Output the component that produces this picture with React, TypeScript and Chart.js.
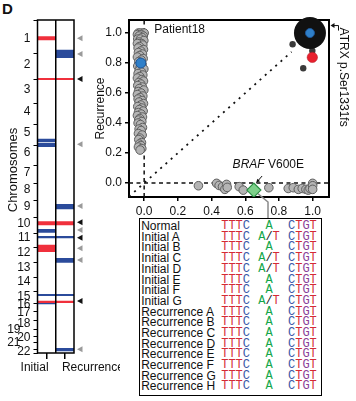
import React, { useEffect, useRef } from 'react';
import { Chart, registerables } from 'chart.js';

Chart.register(...registerables);

const FONT = "'Liberation Sans', Arial, Helvetica, sans-serif";
const MONO = "'Liberation Mono', 'DejaVu Sans Mono', monospace";
Chart.defaults.font.family = FONT;
Chart.defaults.font.size = 12;
Chart.defaults.color = '#111';

// ---------------- Chromosome panel data (relative genome position: 0 = start chr1, 333 = end chr22)
const genomeLength = 333;
const columnLabels = ['Initial', 'Recurrence'];
const chromosomeLabels = ['1', '2', '3', '4', '5', '6', '7', '8', '9', '10', '11', '12', '13', '14', '15', '16', '17', '18', '19   ', '20', '21   ', '22'];
const chromosomeLabelPositions = [18.3, 45, 70, 92, 113, 133, 153, 170, 187, 204, 218, 233, 248, 262, 277, 285, 293, 304, 310, 318, 323, 332];
const chromosomeBoundaries = [0, 33.7, 59.5, 83, 104.5, 125, 145, 163.5, 180.5, 197.5, 213, 227.5, 242.5, 257, 271.5, 283, 291, 300.5, 309, 316, 322.5, 329.5, 333];
const initialGains = [[16.5, 20], [58.4, 59.6], [201.7, 205], [225, 231.7], [281, 282.7]];
const initialLosses = [[119, 122], [123.3, 126.7], [209.3, 212.3], [216.4, 218], [274.4, 275.6], [282.9, 284]];
const recurrenceGains = [[58.4, 59.6], [201.7, 205], [281, 282.7]];
const recurrenceLosses = [[30, 37.7], [184.3, 189], [216.4, 218], [238.3, 242.3], [274.4, 275.6], [328.3, 331]];
const markerPositions = [18.3, 34, 59, 124.3, 186, 202.3, 210, 217.7, 228.3, 240, 281, 329.3];
const markerShared = [false, false, true, false, false, true, false, true, false, false, true, false];

// ---------------- Scatter data (Initial VAF on x, Recurrence VAF on y)
const xRange = [-0.09, 1.097];
const yRange = [-0.093, 1.087];
const axisTicks = [0, 0.2, 0.4, 0.6, 0.8, 1.0];
const recurrenceOnly: number[][] = [
  [-0.035, 1.0], [-0.01, 1.0], [-0.025, 1.0], [0.0, 1.0], [-0.04, 0.99], [-0.018, 0.99], [-0.005, 0.98], [-0.03, 0.98],
  [-0.012, 0.97], [-0.038, 0.96], [-0.022, 0.96], [-0.002, 0.95], [-0.032, 0.94], [-0.015, 0.93], [-0.04, 0.93], [-0.008, 0.92],
  [-0.028, 0.91], [-0.036, 0.9], [-0.004, 0.89], [-0.02, 0.88], [-0.034, 0.87], [-0.01, 0.86], [-0.026, 0.85], [-0.04, 0.84],
  [-0.006, 0.83], [-0.018, 0.82], [-0.032, 0.81], [-0.012, 0.79], [-0.038, 0.78], [-0.024, 0.77], [-0.002, 0.76], [-0.03, 0.75],
  [-0.016, 0.74], [-0.036, 0.73], [-0.008, 0.72], [-0.026, 0.71], [-0.04, 0.7], [-0.014, 0.69], [-0.004, 0.68], [-0.032, 0.67],
  [-0.02, 0.66], [-0.038, 0.65], [-0.01, 0.64], [-0.028, 0.63], [-0.002, 0.62], [-0.034, 0.61], [-0.018, 0.6], [-0.04, 0.59],
  [-0.008, 0.58], [-0.024, 0.57], [-0.036, 0.56], [-0.012, 0.55], [-0.03, 0.54], [-0.004, 0.53], [-0.02, 0.52], [-0.038, 0.51],
  [-0.014, 0.5], [-0.028, 0.49], [-0.006, 0.48], [-0.034, 0.47], [-0.018, 0.46], [-0.04, 0.45], [-0.01, 0.44], [-0.026, 0.43],
  [-0.032, 0.42], [-0.014, 0.41], [-0.036, 0.4], [-0.022, 0.39], [-0.01, 0.37], [-0.03, 0.36], [-0.018, 0.35], [-0.034, 0.33],
  [-0.012, 0.32], [-0.026, 0.3], [-0.032, 0.29], [-0.016, 0.27], [-0.028, 0.26], [-0.02, 0.25], [-0.034, 0.24], [-0.014, 0.23],
  [-0.024, 0.22],
];
const initialOnly: number[][] = [
  [0.322, -0.018], [0.43, -0.002], [0.445, -0.016], [0.465, -0.024], [0.489, -0.009], [0.479, -0.042], [0.493, -0.029],
  [0.564, -0.024], [0.588, -0.047], [0.74, -0.031], [0.855, -0.036], [0.885, -0.031], [0.915, -0.042], [0.938, -0.036],
  [0.96, -0.042], [0.974, -0.047], [0.984, -0.036], [1.0, -0.002], [1.0, -0.018], [1.0, -0.042],
];
const sharedClones: number[][] = [[0.881, 0.925], [0.998, 0.882], [0.944, 0.765]];
const atrxPoint = [0.984, 1.0];
const redPoint = [0.998, 0.838];
const blueRecurrencePoint = [-0.02, 0.8];
const brafPoint = [0.651, -0.047];
const diagonalEnds = [-0.09, 0.875];

// ---------------- Sequence table
const sampleNames = ['Normal', 'Initial A', 'Initial B', 'Initial C', 'Initial D', 'Initial E', 'Initial F', 'Initial G',
  'Recurrence A', 'Recurrence B', 'Recurrence C', 'Recurrence D', 'Recurrence E', 'Recurrence F', 'Recurrence G', 'Recurrence H'];
const variantCalls = ['A', 'A/T', 'A', 'A/T', 'A/T', 'A', 'A', 'A/T', 'A', 'A', 'A', 'A', 'A', 'A', 'A', 'A'];
const leftFlank = 'TTTC';
const rightFlank = 'CTGT';
const baseColors: Record<string, string> = { T: '#d42a36', C: '#3a59a8', A: '#14a64a', G: '#8a3d98', '/': '#222' };

const pts = (arr: number[][]) => arr.map(([x, y]) => ({ x, y }));

function ChromosomePanel() {
  const ref = useRef<HTMLCanvasElement>(null);
  useEffect(() => {
    const RED = '#f0303c';
    const BLUE = '#2b4b9b';
    const band = (b: number[], col: number, color: string) => ({
      data: col === 0 ? [b, null] : [null, b],
      backgroundColor: color,
      borderWidth: 0,
      grouped: false,
      barPercentage: 1,
      categoryPercentage: 1,
    });
    const datasets = [
      ...initialGains.map((b) => band(b, 0, RED)),
      ...initialLosses.map((b) => band(b, 0, BLUE)),
      ...recurrenceGains.map((b) => band(b, 1, RED)),
      ...recurrenceLosses.map((b) => band(b, 1, BLUE)),
    ];
    const boundarySet = new Set(chromosomeBoundaries);
    const labelMap = new Map<number, string>();
    chromosomeLabelPositions.forEach((p, i) => labelMap.set(p, chromosomeLabels[i]));
    const decor = {
      id: 'chromDecor',
      afterDatasetsDraw(chart: any) {
        const { ctx, chartArea: a, scales } = chart;
        const x = scales.x, y = scales.y;
        ctx.save();
        ctx.strokeStyle = '#000';
        ctx.lineWidth = 1.5;
        ctx.strokeRect(a.left, a.top, a.right - a.left, a.bottom - a.top);
        const mid = (x.getPixelForValue(0) + x.getPixelForValue(1)) / 2;
        ctx.beginPath();
        ctx.moveTo(mid, a.top);
        ctx.lineTo(mid, a.bottom);
        ctx.stroke();
        markerPositions.forEach((p, i) => {
          const py = y.getPixelForValue(p);
          ctx.fillStyle = markerShared[i] ? '#111' : '#9a9a9a';
          ctx.beginPath();
          ctx.moveTo(a.right + 3, py);
          ctx.lineTo(a.right + 8.5, py - 3);
          ctx.lineTo(a.right + 8.5, py + 3);
          ctx.closePath();
          ctx.fill();
        });
        ctx.fillStyle = '#111';
        ctx.font = `12px ${FONT}`;
        ctx.textBaseline = 'middle';
        const ly = a.bottom + 15;
        ctx.textAlign = 'right';
        ctx.fillText(columnLabels[0], x.getPixelForValue(0) + 2, ly);
        ctx.textAlign = 'left';
        ctx.fillText(columnLabels[1], x.getPixelForValue(1) - 3, ly);
        ctx.save();
        ctx.font = `13px ${FONT}`;
        ctx.textAlign = 'center';
        ctx.translate(13, a.top + 150);
        ctx.rotate(-Math.PI / 2);
        ctx.fillText('Chromosomes', 0, 0);
        ctx.restore();
        ctx.restore();
      },
    };
    const chart = new Chart(ref.current as HTMLCanvasElement, {
      type: 'bar',
      data: { labels: columnLabels, datasets: datasets as any },
      options: {
        animation: false,
        responsive: false,
        layout: { padding: { top: 20, right: 46, bottom: 0, left: 0 } },
        plugins: { legend: { display: false }, tooltip: { enabled: false } },
        scales: {
          x: {
            type: 'category',
            offset: true,
            border: { display: false },
            grid: { offset: false, drawOnChartArea: false, drawTicks: true, tickLength: 6, color: '#000', lineWidth: 1.5 },
            ticks: { display: false },
            afterFit: (s: any) => { s.height = 27; },
          },
          y: {
            type: 'linear',
            reverse: true,
            min: 0,
            max: genomeLength,
            border: { display: false },
            grid: {
              drawOnChartArea: false,
              drawTicks: true,
              tickLength: 4,
              lineWidth: 1,
              color: (c: any) => (c.tick && boundarySet.has(c.tick.value) ? '#000' : 'rgba(0,0,0,0)'),
            },
            ticks: {
              autoSkip: false,
              padding: 3,
              color: '#111',
              font: { size: 12 },
              callback: (v: any) => labelMap.get(v) ?? '',
            },
            afterBuildTicks: (s: any) => {
              const vals = Array.from(new Set([...chromosomeBoundaries, ...chromosomeLabelPositions])).sort((a, b) => a - b);
              s.ticks = vals.map((v) => ({ value: v }));
            },
            afterFit: (s: any) => { s.width = 37.5; },
          },
        },
      } as any,
      plugins: [decor],
    });
    return () => chart.destroy();
  }, []);
  return <canvas ref={ref} width={120} height={380} style={{ position: 'absolute', left: 0, top: 0 }} />;
}

function ScatterPanel() {
  const ref = useRef<HTMLCanvasElement>(null);
  useEffect(() => {
    const GRAY = '#b4b4b4';
    const GRAY_EDGE = '#5e5e5e';
    const decor = {
      id: 'scatterDecor',
      beforeDatasetsDraw(chart: any) {
        const { ctx, chartArea: a } = chart;
        ctx.save();
        ctx.strokeStyle = '#000';
        ctx.lineWidth = 2;
        ctx.strokeRect(a.left, a.top, a.right - a.left, a.bottom - a.top);
        ctx.restore();
      },
      afterDraw(chart: any) {
        const { ctx, chartArea: a, scales } = chart;
        const xs = scales.x, ys = scales.y;
        const px = (v: number) => xs.getPixelForValue(v);
        const py = (v: number) => ys.getPixelForValue(v);
        ctx.save();
        ctx.fillStyle = '#111';
        ctx.textBaseline = 'middle';
        ctx.textAlign = 'left';
        ctx.font = `12px ${FONT}`;
        ctx.fillText('Patient18', px(0.06), py(1.02));
        // BRAF label
        ctx.font = `italic 12px ${FONT}`;
        const bx = px(0.525), by = py(0.12);
        ctx.fillText('BRAF', bx, by);
        const w = ctx.measureText('BRAF').width;
        ctx.font = `12px ${FONT}`;
        ctx.fillText(' V600E', bx + w, by);
        // small arrow to diamond
        const ax0 = px(0.7), ay0 = py(0.047), ax1 = px(0.666), ay1 = py(0.003);
        ctx.strokeStyle = '#111';
        ctx.lineWidth = 1;
        ctx.beginPath();
        ctx.moveTo(ax0, ay0);
        ctx.lineTo(ax1, ay1);
        ctx.stroke();
        const ang = Math.atan2(ay1 - ay0, ax1 - ax0);
        ctx.beginPath();
        ctx.moveTo(ax1, ay1);
        ctx.lineTo(ax1 - 4 * Math.cos(ang - 0.5), ay1 - 4 * Math.sin(ang - 0.5));
        ctx.lineTo(ax1 - 4 * Math.cos(ang + 0.5), ay1 - 4 * Math.sin(ang + 0.5));
        ctx.closePath();
        ctx.fill();
        // connector from diamond to table
        const dx = px(brafPoint[0]), dy = py(brafPoint[1]);
        const ex = px(0.735);
        ctx.strokeStyle = '#8a8a8a';
        ctx.lineWidth = 1.5;
        ctx.beginPath();
        ctx.moveTo(dx + 4, dy + 3.5);
        ctx.lineTo(ex, a.bottom + 5);
        ctx.lineTo(ex, chart.height);
        ctx.stroke();
        // ATRX label with bracket arrow
        const ty = py(1.05);
        ctx.strokeStyle = '#111';
        ctx.fillStyle = '#111';
        ctx.lineWidth = 1;
        ctx.beginPath();
        ctx.moveTo(a.right + 9.5, ty + 5);
        ctx.lineTo(a.right + 9.5, ty);
        ctx.lineTo(a.right + 4, ty);
        ctx.stroke();
        ctx.beginPath();
        ctx.moveTo(a.right + 1.5, ty);
        ctx.lineTo(a.right + 5.5, ty - 2.5);
        ctx.lineTo(a.right + 5.5, ty + 2.5);
        ctx.closePath();
        ctx.fill();
        ctx.translate(a.right + 14, ty + 2);
        ctx.rotate(Math.PI / 2);
        ctx.font = `12px ${FONT}`;
        ctx.textAlign = 'left';
        ctx.textBaseline = 'middle';
        ctx.fillText('ATRX p.Ser1331fs', 0, 0);
        ctx.restore();
      },
    };
    const dashed = (data: any[], dash: number[], width: number, order: number) => ({
      data,
      showLine: true,
      pointRadius: 0,
      borderColor: '#111',
      borderWidth: width,
      borderDash: dash,
      fill: false,
      order,
    });
    const chart = new Chart(ref.current as HTMLCanvasElement, {
      type: 'scatter',
      data: {
        datasets: [
          { data: pts([atrxPoint]), pointRadius: 4.5, backgroundColor: '#2f7fc8', borderColor: '#1d5596', borderWidth: 1, order: 0, clip: false },
          { data: pts([atrxPoint]), pointRadius: 16, backgroundColor: '#111', borderWidth: 0, order: 1, clip: false },
          { data: pts([redPoint]), pointRadius: 5.2, backgroundColor: '#e8202e', borderColor: '#b01520', borderWidth: 0.5, order: 2 },
          { data: pts([blueRecurrencePoint]), pointRadius: 5, backgroundColor: '#2f7fc8', borderColor: '#1d5596', borderWidth: 1, order: 3 },
          { data: pts([brafPoint]), pointStyle: 'rectRot', pointRadius: 7, backgroundColor: '#7dd08a', borderColor: '#2a8f44', borderWidth: 1.2, order: 4 },
          { data: pts(sharedClones), pointRadius: 3.2, backgroundColor: '#3a3a3a', borderWidth: 0, order: 5 },
          { data: pts(recurrenceOnly), pointRadius: 4.3, backgroundColor: GRAY, borderColor: GRAY_EDGE, borderWidth: 1, order: 6 },
          { data: pts(initialOnly), pointRadius: 4.3, backgroundColor: GRAY, borderColor: GRAY_EDGE, borderWidth: 1, order: 7 },
          dashed([{ x: xRange[0], y: 0 }, { x: xRange[1], y: 0 }], [4, 3.5], 1.5, 8),
          dashed([{ x: 0, y: yRange[0] }, { x: 0, y: yRange[1] }], [4, 3.5], 1.5, 9),
          dashed([{ x: diagonalEnds[0], y: diagonalEnds[0] }, { x: diagonalEnds[1], y: diagonalEnds[1] }], [2, 5], 1.8, 10),
        ] as any,
      },
      options: {
        animation: false,
        responsive: false,
        layout: { padding: { top: 20, right: 27, bottom: 0, left: 0 } },
        plugins: { legend: { display: false }, tooltip: { enabled: false } },
        scales: {
          x: {
            type: 'linear',
            min: xRange[0],
            max: xRange[1],
            border: { display: false },
            grid: { drawOnChartArea: false, drawTicks: true, tickLength: 4, color: '#000', lineWidth: 1.5 },
            ticks: { padding: 3, color: '#111', font: { size: 12 }, callback: (v: any) => Number(v).toFixed(1) },
            afterBuildTicks: (s: any) => { s.ticks = axisTicks.map((v) => ({ value: v })); },
            afterFit: (s: any) => { s.height = 25; },
          },
          y: {
            type: 'linear',
            min: yRange[0],
            max: yRange[1],
            border: { display: false },
            grid: { drawOnChartArea: false, drawTicks: true, tickLength: 4, color: '#000', lineWidth: 1.5 },
            ticks: { padding: 3, color: '#111', font: { size: 12 }, callback: (v: any) => Number(v).toFixed(1) },
            title: { display: true, text: 'Recurrence', color: '#111', font: { size: 12 }, padding: { top: 3, bottom: 0 } },
            afterBuildTicks: (s: any) => { s.ticks = axisTicks.map((v) => ({ value: v })); },
            afterFit: (s: any) => { s.width = 39; },
          },
        },
      } as any,
      plugins: [decor],
    });
    return () => chart.destroy();
  }, []);
  return <canvas ref={ref} width={266} height={222} style={{ position: 'absolute', left: 90, top: 0 }} />;
}

function Bases({ seq }: { seq: string }) {
  return (
    <>
      {seq.split('').map((ch, i) => (
        <span key={i} style={{ color: baseColors[ch] || '#222' }}>{ch}</span>
      ))}
    </>
  );
}

function SequenceTable() {
  return (
    <div
      style={{
        position: 'absolute',
        left: 138.5,
        top: 217.5,
        width: 183,
        height: 178,
        border: '1.5px solid #000',
        boxSizing: 'border-box',
        background: '#fff',
        paddingTop: 2.6,
        paddingLeft: 1.7,
        fontFamily: FONT,
        fontSize: 12,
        color: '#111',
      }}
    >
      {sampleNames.map((name, i) => (
        <div key={name} style={{ display: 'flex', height: 10.7, lineHeight: '10.7px', whiteSpace: 'pre' }}>
          <span style={{ width: 80, flex: 'none' }}>{name}</span>
          <span style={{ fontFamily: MONO, flex: 'none' }}><Bases seq={leftFlank} /></span>
          <span style={{ width: 38, flex: 'none', textAlign: 'center', fontFamily: MONO }}><Bases seq={variantCalls[i]} /></span>
          <span style={{ fontFamily: MONO, flex: 'none' }}><Bases seq={rightFlank} /></span>
        </div>
      ))}
    </div>
  );
}

export default function App() {
  return (
    <div style={{ position: 'absolute', left: 0, top: 0, width: 356, height: 401, background: '#fff', overflow: 'hidden', fontFamily: FONT }}>
      <div style={{ position: 'absolute', left: 2, top: 0, fontWeight: 'bold', fontSize: 15, lineHeight: '18px', color: '#111' }}>D</div>
      <ChromosomePanel />
      <ScatterPanel />
      <SequenceTable />
    </div>
  );
}
